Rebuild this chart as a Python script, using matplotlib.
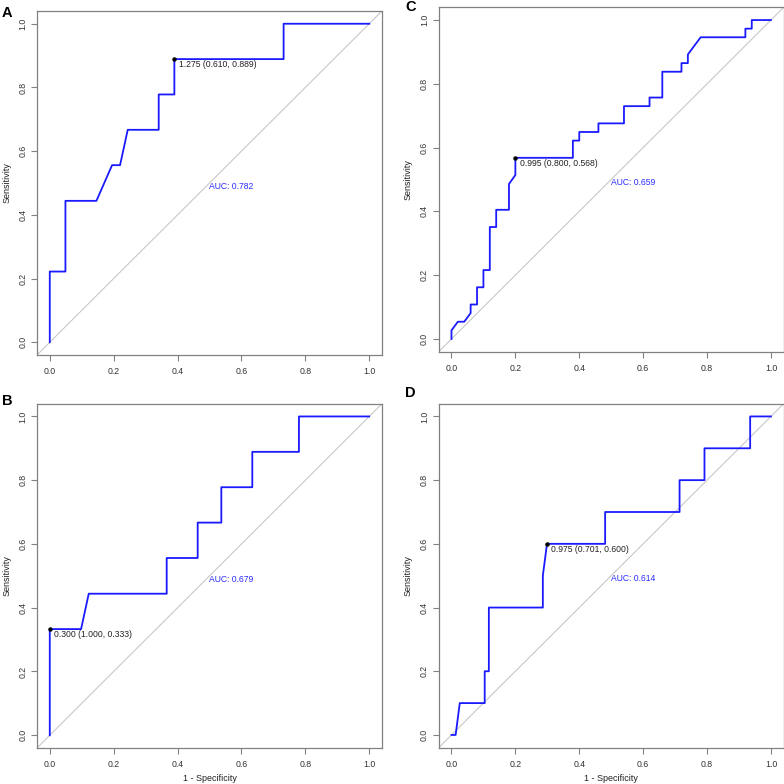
import matplotlib
matplotlib.use('Agg')
from matplotlib import pyplot as plt

plt.rcParams['font.family'] = ['Liberation Sans', 'DejaVu Sans']

# ---- data (1 - specificity, sensitivity) ----
fpr_a = [0.0, 0.0, 0.049, 0.049, 0.146, 0.195, 0.220, 0.244, 0.341, 0.341, 0.390, 0.390, 0.732, 0.732, 1.0]
tpr_a = [0.0, 0.222, 0.222, 0.444, 0.444, 0.556, 0.556, 0.667, 0.667, 0.778, 0.778, 0.889, 0.889, 1.0, 1.0]

fpr_b = [0.0, 0.0, 0.098, 0.122, 0.366, 0.366, 0.463, 0.463, 0.537, 0.537, 0.634, 0.634, 0.780, 0.780, 1.0]
tpr_b = [0.0, 0.333, 0.333, 0.444, 0.444, 0.556, 0.556, 0.667, 0.667, 0.778, 0.778, 0.889, 0.889, 1.0, 1.0]

fpr_c = [0.0, 0.0, 0.02, 0.04, 0.06, 0.06, 0.08, 0.08, 0.10, 0.10, 0.12, 0.12, 0.14, 0.14,
         0.18, 0.18, 0.20, 0.20, 0.38, 0.38, 0.40, 0.40, 0.46, 0.46, 0.54, 0.54, 0.62, 0.62,
         0.66, 0.66, 0.72, 0.72, 0.74, 0.74, 0.78, 0.92, 0.92, 0.94, 0.94, 1.0]
tpr_c = [0.0, 0.027, 0.054, 0.054, 0.081, 0.108, 0.108, 0.162, 0.162, 0.216, 0.216, 0.351, 0.351, 0.405,
         0.405, 0.486, 0.514, 0.568, 0.568, 0.622, 0.622, 0.649, 0.649, 0.676, 0.676, 0.730, 0.730, 0.757,
         0.757, 0.838, 0.838, 0.865, 0.865, 0.892, 0.946, 0.946, 0.973, 0.973, 1.0, 1.0]

fpr_d = [0.0, 0.013, 0.026, 0.104, 0.104, 0.117, 0.117, 0.286, 0.286, 0.299, 0.481, 0.481,
         0.714, 0.714, 0.792, 0.792, 0.935, 0.935, 1.0]
tpr_d = [0.0, 0.0, 0.1, 0.1, 0.2, 0.2, 0.4, 0.4, 0.5, 0.6, 0.6, 0.7,
         0.7, 0.8, 0.8, 0.9, 0.9, 1.0, 1.0]

best_pts = {'A': (0.390, 0.889), 'B': (0.0, 0.333), 'C': (0.20, 0.568), 'D': (0.299, 0.600)}
best_txt = {'A': '1.275 (0.610, 0.889)', 'B': '0.300 (1.000, 0.333)',
            'C': '0.995 (0.800, 0.568)', 'D': '0.975 (0.701, 0.600)'}
auc_txt = {'A': 'AUC: 0.782', 'B': 'AUC: 0.679', 'C': 'AUC: 0.659', 'D': 'AUC: 0.614'}
curves = {'A': (fpr_a, tpr_a), 'B': (fpr_b, tpr_b), 'C': (fpr_c, tpr_c), 'D': (fpr_d, tpr_d)}
ticks = [0.0, 0.2, 0.4, 0.6, 0.8, 1.0]

W = 784.0
# axes boxes in pixels: left, top, width, height
boxes = {'A': (37, 11, 345, 344), 'C': (438.7, 7.3, 345, 344.4),
         'B': (37, 403.7, 345, 344.3), 'D': (438.7, 403.7, 345, 344)}
letters = {'A': (6.5, 13.3), 'C': (410.7, 7), 'B': (7, 401), 'D': (410.7, 393)}

fig = plt.figure(figsize=(7.84, 7.84), dpi=100)

for key in ['A', 'C', 'B', 'D']:
    l, t, w, h = boxes[key]
    ax = fig.add_axes([l / W, 1 - (t + h) / W, w / W, h / W])
    fpr, tpr = curves[key]

    ax.plot([-0.04, 1.04], [-0.04, 1.04], color='#c8c8c8', linewidth=0.8, zorder=1)
    ax.plot(fpr, tpr, color='#1a1aff', linewidth=1.3, zorder=2)

    bx, by = best_pts[key]
    ax.plot([bx], [by], 'o', color='black', markersize=2.2, zorder=3)
    ax.annotate(best_txt[key], xy=(bx, by), xytext=(3, -3.8), textcoords='offset points',
                ha='left', va='center', fontsize=6.2, color='#222222')
    ax.text(0.5, 0.49, auc_txt[key], ha='left', va='center', fontsize=6.2, color='#2a2aff')

    ax.set_xlim(-0.04, 1.04)
    ax.set_ylim(-0.04, 1.04)
    ax.set_xticks(ticks)
    ax.set_yticks(ticks)
    ax.set_xticklabels(['%.1f' % v for v in ticks])
    ax.set_yticklabels(['%.1f' % v for v in ticks], rotation=90, va='center')
    ax.tick_params(direction='out', length=4, width=0.8, colors='#808080',
                   labelcolor='#333333', labelsize=6.3, pad=3)
    ax.tick_params(axis='x', pad=4.5)
    for s in ax.spines.values():
        s.set_color('#808080')
        s.set_linewidth(0.9)

    ax.set_ylabel('Sensitivity', fontsize=6.5, color='#222222', va='center')
    ax.yaxis.set_label_coords(-0.088, 0.5)
    if key in ('B', 'D'):
        ax.set_xlabel('1 - Specificity', fontsize=6.5, color='#222222', va='center')
        ax.xaxis.set_label_coords(0.5, -0.09)

    lx, ly = letters[key]
    fig.text(lx / W, 1 - ly / W, key, ha='center', va='center', fontsize=10.5,
             fontweight='bold', color='black')

fig.savefig('out.png', dpi=100)
